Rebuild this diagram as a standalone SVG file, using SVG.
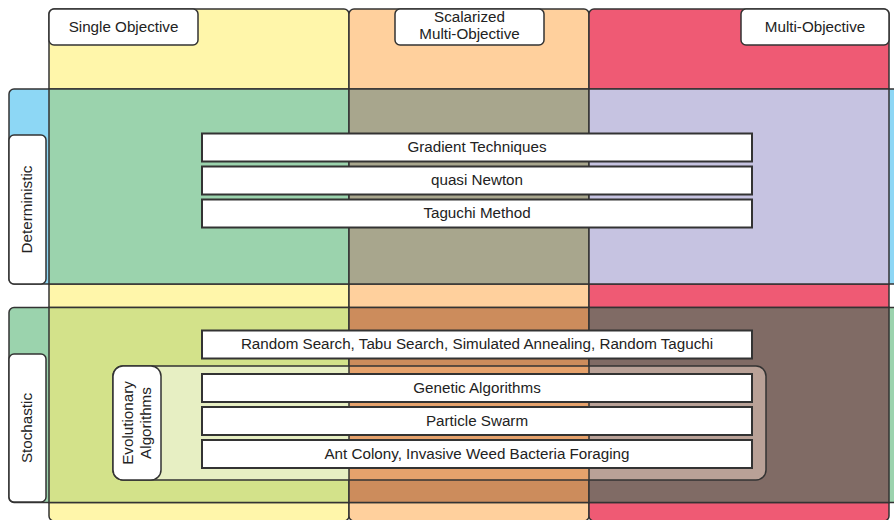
<svg xmlns="http://www.w3.org/2000/svg" width="894" height="520" viewBox="0 0 894 520">
<defs>
<style>
.ln{stroke:#333;stroke-width:1.5}
.lbl{fill:#fff;stroke:#333;stroke-width:1.5}
.bar{fill:#fff;stroke:#333;stroke-width:2}
text{font-family:"Liberation Sans",Arial,sans-serif;font-size:15.2px;fill:#222;text-anchor:middle}
</style>
<clipPath id="evoClip"><rect x="113" y="366" width="653" height="114" rx="10"/></clipPath>
</defs>
<rect width="894" height="520" fill="#fff"/>
<g id="columns">
<rect class="ln" x="49" y="9" width="300" height="512" rx="5" fill="#fff6aa"/>
<rect class="ln" x="349" y="9" width="240" height="512" rx="5" fill="#ffd09d"/>
<rect class="ln" x="589" y="9" width="300" height="512" rx="5" fill="#ef5a74"/>
</g>
<g id="row-deterministic">
<rect class="ln" x="9" y="89" width="900" height="195" rx="5" fill="#8dd7f5"/>
<rect class="ln" x="49" y="89" width="300" height="195" fill="#9bd3ad"/>
<rect class="ln" x="349" y="89" width="240" height="195" fill="#a8a68d"/>
<rect class="ln" x="589" y="89" width="300" height="195" fill="#c6c3e1"/>
</g>
<g id="row-stochastic">
<rect class="ln" x="9" y="307.5" width="900" height="195" rx="5" fill="#9bd3ad"/>
<rect class="ln" x="49" y="307.5" width="300" height="195" fill="#d3e28a"/>
<rect class="ln" x="349" y="307.5" width="240" height="195" fill="#cc8c5c"/>
<rect class="ln" x="589" y="307.5" width="300" height="195" fill="#806b65"/>
</g>
<g id="evolutionary-region">
<g clip-path="url(#evoClip)">
<rect x="113" y="366" width="236" height="114" fill="#e7efc3"/>
<rect x="349" y="366" width="240" height="114" fill="#e6a26c"/>
<rect x="589" y="366" width="177" height="114" fill="#b9a197"/>
<line class="ln" x1="349" y1="366" x2="349" y2="480"/>
<line class="ln" x1="589" y1="366" x2="589" y2="480"/>
</g>
<rect class="ln" x="113" y="366" width="653" height="114" rx="10" fill="none"/>
</g>
<g id="label-single">
<rect class="lbl" x="49" y="9" width="149" height="36" rx="5"/>
<text x="123.5" y="31.5">Single Objective</text>
</g>
<g id="label-scalarized">
<rect class="lbl" x="395" y="9" width="149" height="36" rx="5"/>
<text x="469.5" y="22">Scalarized</text>
<text x="469.5" y="39">Multi-Objective</text>
</g>
<g id="label-multi">
<rect class="lbl" x="741" y="9" width="148" height="36" rx="5"/>
<text x="815" y="31.5">Multi-Objective</text>
</g>
<g id="label-deterministic">
<rect class="lbl" x="9" y="135" width="37" height="149" rx="5"/>
<text transform="translate(32,209.5) rotate(-90)">Deterministic</text>
</g>
<g id="label-stochastic">
<rect class="lbl" x="9" y="354" width="37" height="148" rx="5"/>
<text transform="translate(32,428) rotate(-90)">Stochastic</text>
</g>
<g id="label-evolutionary">
<rect class="lbl" x="113" y="366" width="48" height="114" rx="10"/>
<text transform="translate(133,423) rotate(-90)">Evolutionary</text>
<text transform="translate(151,423) rotate(-90)">Algorithms</text>
</g>
<g id="bar-gradient">
<rect class="bar" x="202" y="133.5" width="550" height="28"/>
<text x="477" y="152">Gradient Techniques</text>
</g>
<g id="bar-quasi">
<rect class="bar" x="202" y="166.5" width="550" height="28"/>
<text x="477" y="185">quasi Newton</text>
</g>
<g id="bar-taguchi">
<rect class="bar" x="202" y="199.5" width="550" height="28"/>
<text x="477" y="218">Taguchi Method</text>
</g>
<g id="bar-random">
<rect class="bar" x="202" y="330.5" width="550" height="28"/>
<text x="477" y="349">Random Search, Tabu Search, Simulated Annealing, Random Taguchi</text>
</g>
<g id="bar-genetic">
<rect class="bar" x="202" y="374" width="550" height="28"/>
<text x="477" y="392.5">Genetic Algorithms</text>
</g>
<g id="bar-particle">
<rect class="bar" x="202" y="407" width="550" height="28"/>
<text x="477" y="425.5">Particle Swarm</text>
</g>
<g id="bar-ant">
<rect class="bar" x="202" y="440" width="550" height="28"/>
<text x="477" y="458.5">Ant Colony, Invasive Weed Bacteria Foraging</text>
</g>
<g id="connectors"/>
</svg>
